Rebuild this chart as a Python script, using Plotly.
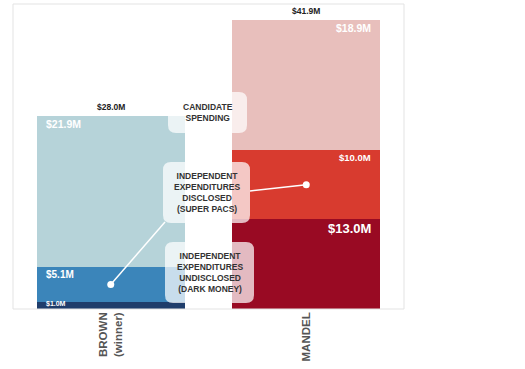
import plotly.graph_objects as go

# ---- data ----
candidates = ["BROWN<br>(winner)", "MANDEL"]
dark_money = [1.0, 13.0]
super_pacs = [5.1, 10.0]
candidate_spending = [21.9, 18.9]
series_names = ["INDEPENDENT<br>EXPENDITURES<br>UNDISCLOSED<br>(DARK MONEY)",
                "INDEPENDENT<br>EXPENDITURES<br>DISCLOSED<br>(SUPER PACS)",
                "CANDIDATE<br>SPENDING"]

colors_dark = ["#1f3d6b", "#990a23"]
colors_pac = ["#3b85ba", "#d83b2f"]
colors_cand = ["#b6d3d9", "#e8bfbc"]

FONT = "Arial, Liberation Sans, sans-serif"
W, H = 525, 369
ML, MR, MT, MB = 13, 121, 4, 60
PW, PH = W - ML - MR, H - MT - MB
BW = 0.756
YMAX = 44.2

xs = [0, 1]
fig = go.Figure()
for vals, cols in [(dark_money, colors_dark), (super_pacs, colors_pac), (candidate_spending, colors_cand)]:
    fig.add_trace(go.Bar(x=xs, y=vals, marker=dict(color=cols, line=dict(width=0)),
                         width=BW, showlegend=False, hoverinfo="skip"))

def fmt(v):
    return f"${v:.1f}M"

def px_to_paper(px, py):
    return (px - ML) / PW, (MT + PH - py) / PH

def px_to_data(px, py):
    x = (px - ML) / PW * 2.0 - 0.5
    y = (MT + PH - py) / PH * YMAX
    return x, y

ann = []
# segment labels
for i in range(2):
    segs = [dark_money[i], super_pacs[i], candidate_spending[i]]
    tops = [segs[0], segs[0] + segs[1], sum(segs)]
    if i == 0:
        xa, xanchor, xshift = xs[i] - BW / 2, "left", 7
    else:
        xa, xanchor, xshift = xs[i] + BW / 2, "right", -7
    sizes = [7, 10, 10.5] if i == 0 else [13, 9.5, 10.5]
    for k in range(3):
        if i == 0 and k == 0:
            ann.append(dict(x=xa, y=segs[0] / 2, text=f"<b>{fmt(segs[0])}</b>", showarrow=False,
                            xanchor=xanchor, yanchor="middle", xshift=xshift, yshift=2,
                            font=dict(family=FONT, size=sizes[k], color="white")))
        else:
            ann.append(dict(x=xa, y=tops[k], text=f"<b>{fmt(segs[k])}</b>", showarrow=False,
                            xanchor=xanchor, yanchor="top", xshift=xshift, yshift=0,
                            font=dict(family=FONT, size=sizes[k], color="white")))
    ann.append(dict(x=xs[i], y=sum(segs), text=f"<b>{fmt(sum(segs))}</b>", showarrow=False,
                    xanchor="center", yanchor="bottom", yshift=2,
                    font=dict(family=FONT, size=8.5, color="#222")))

# connector lines + dots (from super PAC segment middles)
line_ends_px = [(165, 222), (250, 191)]
for i in range(2):
    ymid = dark_money[i] + super_pacs[i] / 2
    ex, ey = px_to_data(*line_ends_px[i])
    fig.add_trace(go.Scatter(x=[xs[i], ex], y=[ymid, ey], mode="lines",
                             line=dict(color="white", width=1.5), showlegend=False, hoverinfo="skip"))
    fig.add_trace(go.Scatter(x=[xs[i]], y=[ymid], mode="markers",
                             marker=dict(color="white", size=7, line=dict(width=0)),
                             showlegend=False, hoverinfo="skip"))

# label boxes (pixel boxes) with rounded corners
boxes_px = [(165, 242, 254, 303), (163, 162, 250, 223), (168, 92, 247, 133)]
shapes = []
R = 8
for (x0, y0, x1, y1) in boxes_px:
    def P(px, py):
        a, b = px_to_paper(px, py)
        return f"{a:.5f},{b:.5f}"
    path = (f"M {P(x0 + R, y0)} L {P(x1 - R, y0)} Q {P(x1, y0)} {P(x1, y0 + R)} "
            f"L {P(x1, y1 - R)} Q {P(x1, y1)} {P(x1 - R, y1)} "
            f"L {P(x0 + R, y1)} Q {P(x0, y1)} {P(x0, y1 - R)} "
            f"L {P(x0, y0 + R)} Q {P(x0, y0)} {P(x0 + R, y0)} Z")
    shapes.append(dict(type="path", path=path, xref="paper", yref="paper",
                       fillcolor="rgba(255,255,255,0.72)", line=dict(width=0), layer="above"))

for (x0, y0, x1, y1), name in zip(boxes_px, series_names):
    cx, cy = px_to_paper((x0 + x1) / 2 + 0.5, (y0 + y1) / 2)
    ann.append(dict(x=cx, y=cy, xref="paper", yref="paper", text=f"<b>{name}</b>", showarrow=False,
                    xanchor="center", yanchor="middle",
                    font=dict(family=FONT, size=8.5, color="#333")))

# plot border
shapes.append(dict(type="rect", xref="paper", yref="paper", x0=0, y0=0, x1=1, y1=1,
                   line=dict(color="#e3e3e3", width=1), fillcolor="rgba(0,0,0,0)", layer="above"))

fig.update_layout(
    width=W, height=H, barmode="stack", bargap=0,
    margin=dict(l=ML, r=MR, t=MT, b=MB),
    paper_bgcolor="white", plot_bgcolor="white",
    xaxis=dict(range=[-0.5, 1.5], tickvals=xs, ticktext=[f"<b>{c}</b>" for c in candidates], tickangle=-90,
               showgrid=False, zeroline=False, showline=False, ticks="",
               tickfont=dict(family=FONT, size=11.5, color="#555")),
    yaxis=dict(range=[0, YMAX], visible=False, showgrid=False, zeroline=False),
    annotations=ann, shapes=shapes,
)

fig.write_html("out.html", config={"displayModeBar": False},
               post_script="document.body.style.margin='0';document.body.style.overflow='hidden';")
